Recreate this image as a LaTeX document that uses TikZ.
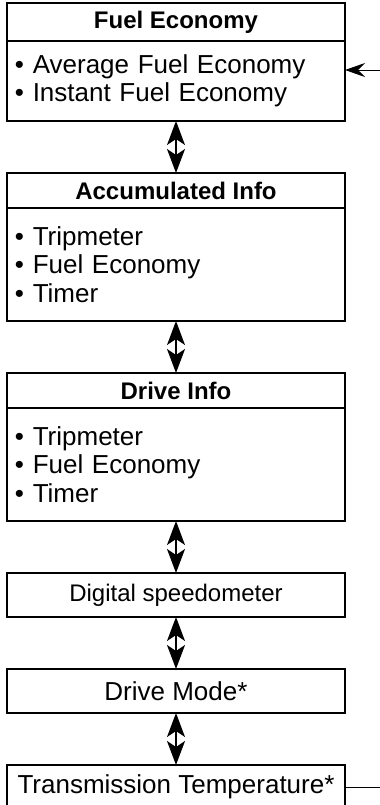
\documentclass[tikz,border=0pt]{standalone}
\usepackage{fontspec}
\setmainfont{Liberation Sans}
\usetikzlibrary{arrows.meta, positioning}

\begin{document}
\begin{tikzpicture}[
    node distance=26pt,
    box/.style={rectangle, draw, line width=0.7pt, outer sep=0pt,
                minimum width=169pt, inner xsep=4pt, fill=white},
    headbox/.style={box, minimum height=17.5pt,
                font=\fontsize{12}{14}\selectfont\bfseries},
    listbox/.style={box, text width=161pt, align=left,
                font=\fontsize{13}{14.25}\selectfont},
    onebox/.style={box, minimum height=22pt,
                font=\fontsize{13}{15}\selectfont},
    twoway/.style={{Stealth[length=12pt, width=9pt, inset=3pt]}-{Stealth[length=12pt, width=9pt, inset=3pt]},
                line width=0.7pt},
    arrow/.style={-{Stealth[length=10pt, width=7pt, inset=3.5pt]}, line width=0.5pt}
]
\useasboundingbox (-3.5pt,1.5pt) rectangle (186.5pt,-401pt);

%% -- Fuel economy --------------------------------------------------------
\node[headbox, minimum height=19pt, anchor=north west] (fuelhead) at (0,0) {Fuel Economy};
\node[listbox, below=0pt of fuelhead, minimum height=40pt] (fuellist)
      {\textbullet\ Average Fuel Economy\\\textbullet\ Instant Fuel Economy};

%% -- Accumulated info ----------------------------------------------------
\node[headbox, below=of fuellist] (accuhead) {Accumulated Info};
\node[listbox, below=0pt of accuhead, minimum height=56.5pt] (acculist)
      {\textbullet\ Tripmeter\\\textbullet\ Fuel Economy\\\textbullet\ Timer};

%% -- Drive info ----------------------------------------------------------
\node[headbox, below=of acculist] (drivehead) {Drive Info};
\node[listbox, below=0pt of drivehead, minimum height=56.5pt] (drivelist)
      {\textbullet\ Tripmeter\\\textbullet\ Fuel Economy\\\textbullet\ Timer};

%% -- Single screens ------------------------------------------------------
\node[onebox, below=of drivelist, font=\fontsize{12}{14}\selectfont] (speedo) {Digital speedometer};
\node[onebox, below=of speedo]    (drivemode) {Drive Mode*};
\node[onebox, below=of drivemode] (transtemp) {Transmission Temperature*};

\draw[twoway] (fuellist)  -- (accuhead);
\draw[twoway] (acculist)  -- (drivehead);
\draw[twoway] (drivelist) -- (speedo);
\draw[twoway] (speedo)    -- (drivemode);
\draw[twoway] (drivemode) -- (transtemp);

% Return to the first screen
\coordinate (loopin)  at ([shift={(18pt,5.5pt)}]fuellist.east);
\coordinate (loopout) at ([xshift=18pt]transtemp.east);
\draw[arrow] (loopin) -- (loopin -| fuellist.east);
\draw[line width=0.5pt] (transtemp) -- (loopout);

\end{tikzpicture}
\end{document}
